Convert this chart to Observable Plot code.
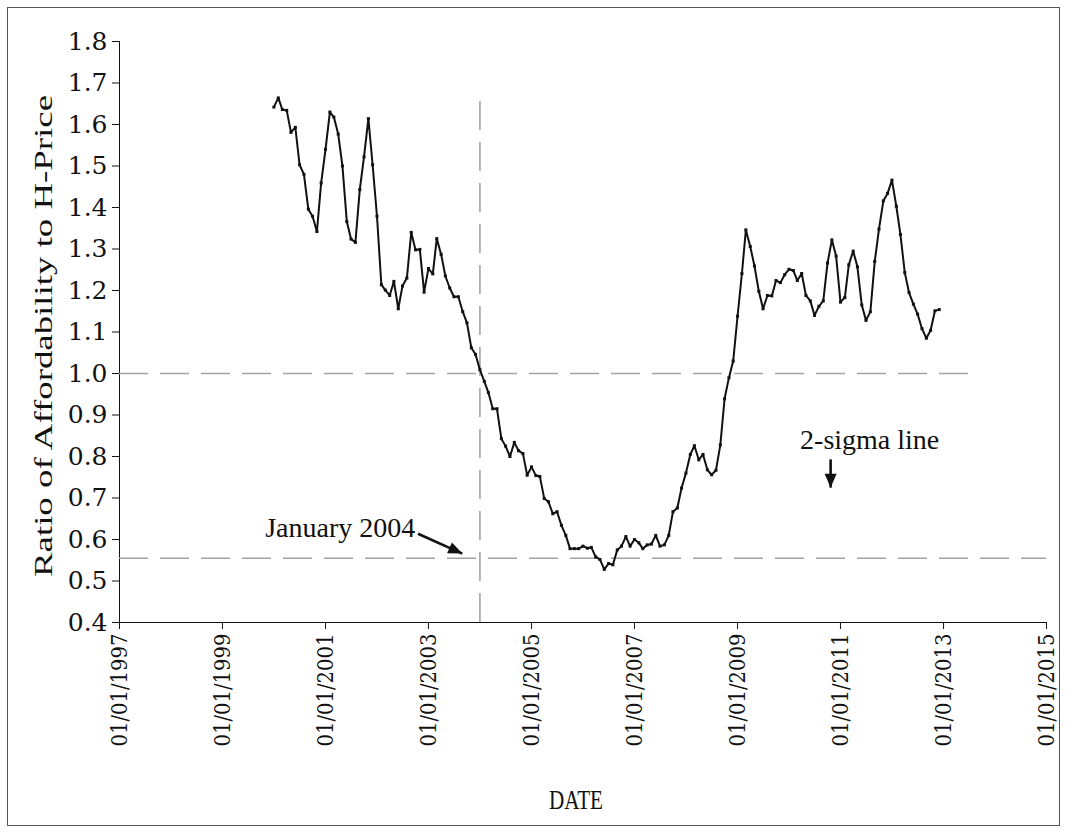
<!DOCTYPE html>
<html><head><meta charset="utf-8">
<script src="https://cdn.jsdelivr.net/npm/d3@7"></script>
<script src="https://cdn.jsdelivr.net/npm/@observablehq/plot@0.6"></script>
<style>
body{margin:0;background:#fff;}
#wrap{position:relative;width:1068px;height:833px;overflow:hidden;background:#fff;}
#border{position:absolute;left:7px;top:7px;width:1053px;height:819px;border:1.5px solid #555;box-sizing:border-box;}
#chart{position:absolute;left:0;top:0;}
</style></head><body>
<div id="wrap"><div id="border"></div><div id="chart"></div></div>
<script>
// Monthly series, first month January 2000
const startMonth = "2000-01";
const ratios = [
1.642,1.664,1.636,1.634,1.581,1.593,1.503,1.480,1.396,1.379,1.342,1.459,
1.540,1.630,1.618,1.577,1.500,1.366,1.324,1.316,1.443,1.522,1.614,1.503,
1.379,1.214,1.201,1.188,1.222,1.156,1.211,1.230,1.340,1.298,1.299,1.196,
1.253,1.240,1.325,1.287,1.235,1.206,1.185,1.185,1.149,1.122,1.062,1.046,
1.009,0.981,0.954,0.915,0.915,0.843,0.825,0.800,0.834,0.814,0.807,0.755,
0.775,0.754,0.752,0.699,0.691,0.662,0.667,0.634,0.610,0.578,0.578,0.578,
0.584,0.579,0.581,0.558,0.552,0.528,0.542,0.539,0.575,0.584,0.607,0.584,
0.600,0.592,0.578,0.587,0.589,0.610,0.584,0.587,0.610,0.667,0.676,0.724,
0.760,0.805,0.826,0.792,0.805,0.768,0.756,0.767,0.828,0.939,0.990,1.030,
1.138,1.241,1.346,1.306,1.259,1.198,1.156,1.188,1.187,1.224,1.219,1.238,
1.251,1.248,1.224,1.241,1.188,1.175,1.140,1.162,1.175,1.266,1.322,1.283,
1.172,1.183,1.262,1.295,1.257,1.165,1.128,1.149,1.270,1.348,1.416,1.434,
1.466,1.403,1.335,1.243,1.195,1.167,1.143,1.108,1.085,1.104,1.151,1.154
];
const axisYears = [1997,1999,2001,2003,2005,2007,2009,2011,2013,2015];
const yTicks = [0.4,0.5,0.6,0.7,0.8,0.9,1.0,1.1,1.2,1.3,1.4,1.5,1.6,1.7,1.8];
const parityLevel = 1.0;
const parityEnd = "2013-09-20";
const twoSigmaLevel = 0.555;
const eventDate = "2004-01-01";
const eventTop = 1.68;
const xTitle = "DATE";
const yTitle = "Ratio of Affordability to H-Price";
const labels = [
  {text: "January 2004", date: "2001-04-15", value: 0.606},
  {text: "2-sigma line", date: "2011-07-27", value: 0.817}
];
const arrows = [
  {from: "2002-10-19", to: "2003-08-29", v1: 0.614, v2: 0.566},
  {from: "2010-10-23", to: "2010-10-23", v1: 0.793, v2: 0.725}
];

const P = d3.utcParse("%Y-%m-%d");
const start = d3.utcParse("%Y-%m")(startMonth);
const series = ratios.map((v, i) => ({date: d3.utcMonth.offset(start, i), value: v}));
const yearDate = y => new Date(Date.UTC(y, 0, 1));
const labelRows = labels.map(d => ({...d, date: P(d.date)}));
const arrowRows = arrows.map(d => ({...d, from: P(d.from), to: P(d.to)}));
const serif = "'Liberation Serif', 'Times New Roman', serif";
const dash = "29,12";
const refColor = "#a3a3a3";

const xDomain = [yearDate(axisYears[0]), yearDate(axisYears[axisYears.length - 1])];
const yDomain = [yTicks[0], yTicks[yTicks.length - 1]];
const W = 1068, H = 833, ML = 119, MR = 22, MT = 41, MB = 211;
// pixel scales matching the plot's, used only to orient the arrowheads
const sx = d3.scaleUtc(xDomain, [ML, W - MR]);
const sy = d3.scaleLinear(yDomain, [H - MB, MT]);

// filled triangular arrowhead symbol with its tip at the data point
function headSymbol(d, len, wid) {
  const dx = sx(d.to) - sx(d.from), dy = sy(d.v2) - sy(d.v1);
  const n = Math.hypot(dx, dy), ux = dx / n, uy = dy / n;
  return {draw(ctx) {
    const bx = -ux * len, by = -uy * len;
    ctx.moveTo(0, 0);
    ctx.lineTo(bx - uy * wid / 2, by + ux * wid / 2);
    ctx.lineTo(bx + uy * wid / 2, by - ux * wid / 2);
    ctx.closePath();
  }};
}
const headMarks = arrowRows.map(d => Plot.dot([d], {x: "to", y: "v2", symbol: headSymbol(d, 14, 12), fill: "#111", stroke: "none"}));

const plot = Plot.plot({
  width: W, height: H,
  marginLeft: ML, marginRight: MR, marginTop: MT, marginBottom: MB,
  style: {background: "transparent", fontFamily: "'DejaVu Serif', serif", fontSize: "22px", color: "#111"},
  x: {type: "utc", domain: xDomain,
      ticks: axisYears.map(yearDate), tickFormat: d3.utcFormat("%m/%d/%Y"),
      tickRotate: -90, label: null, line: true, tickSize: 7, tickPadding: 4},
  y: {domain: yDomain, ticks: yTicks, tickFormat: d3.format(".1f"),
      label: null, line: true, tickSize: 7, tickPadding: 5},
  marks: [
    Plot.ruleY([parityLevel], {x1: xDomain[0], x2: P(parityEnd), stroke: refColor, strokeWidth: 1.6, strokeDasharray: dash}),
    Plot.ruleY([twoSigmaLevel], {stroke: refColor, strokeWidth: 1.6, strokeDasharray: dash}),
    Plot.ruleX([P(eventDate)], {y1: yTicks[0], y2: eventTop, stroke: refColor, strokeWidth: 1.6, strokeDasharray: dash}),
    Plot.line(series, {x: "date", y: "value", stroke: "#111", strokeWidth: 2}),
    Plot.dot(series, {x: "date", y: "value", symbol: "square", r: 1.7, fill: "#111", stroke: "none"}),
    Plot.link(arrowRows, {x1: "from", y1: "v1", x2: "to", y2: "v2", stroke: "#111", strokeWidth: 2.6}),
    ...headMarks,
    Plot.text(labelRows, {x: "date", y: "value", text: "text", textAnchor: "middle", lineAnchor: "bottom",
      fontFamily: serif, fontSize: 28, fill: "#111"}),
    Plot.text([xTitle], {frameAnchor: "bottom", dx: -7, dy: 186, lineAnchor: "bottom", fontFamily: serif, fontSize: 28, fill: "#111"}),
    Plot.text([yTitle], {frameAnchor: "left", dx: -76, dy: 4, rotate: -90, textAnchor: "middle", fontFamily: serif, fontSize: 25, fill: "#111"})
  ]
});
document.getElementById("chart").appendChild(plot);
const svg = d3.select(plot);
svg.selectAll("text").filter(function() { return this.textContent === yTitle; })
  .attr("textLength", 482).attr("lengthAdjust", "spacingAndGlyphs");
svg.selectAll("text").filter(function() { return this.textContent === xTitle; })
  .attr("textLength", 54).attr("lengthAdjust", "spacingAndGlyphs");
const xFmt = d3.utcFormat("%m/%d/%Y");
const xLabels = new Set(axisYears.map(y => xFmt(yearDate(y))));
const yLabels = new Set(yTicks.map(d3.format(".1f")));
svg.selectAll("text").filter(function() { return xLabels.has(this.textContent); })
  .style("font-size", "23px").attr("textLength", 113).attr("lengthAdjust", "spacingAndGlyphs");
svg.selectAll("text").filter(function() { return yLabels.has(this.textContent); })
  .style("font-size", "25px");
</script>
</body></html>
